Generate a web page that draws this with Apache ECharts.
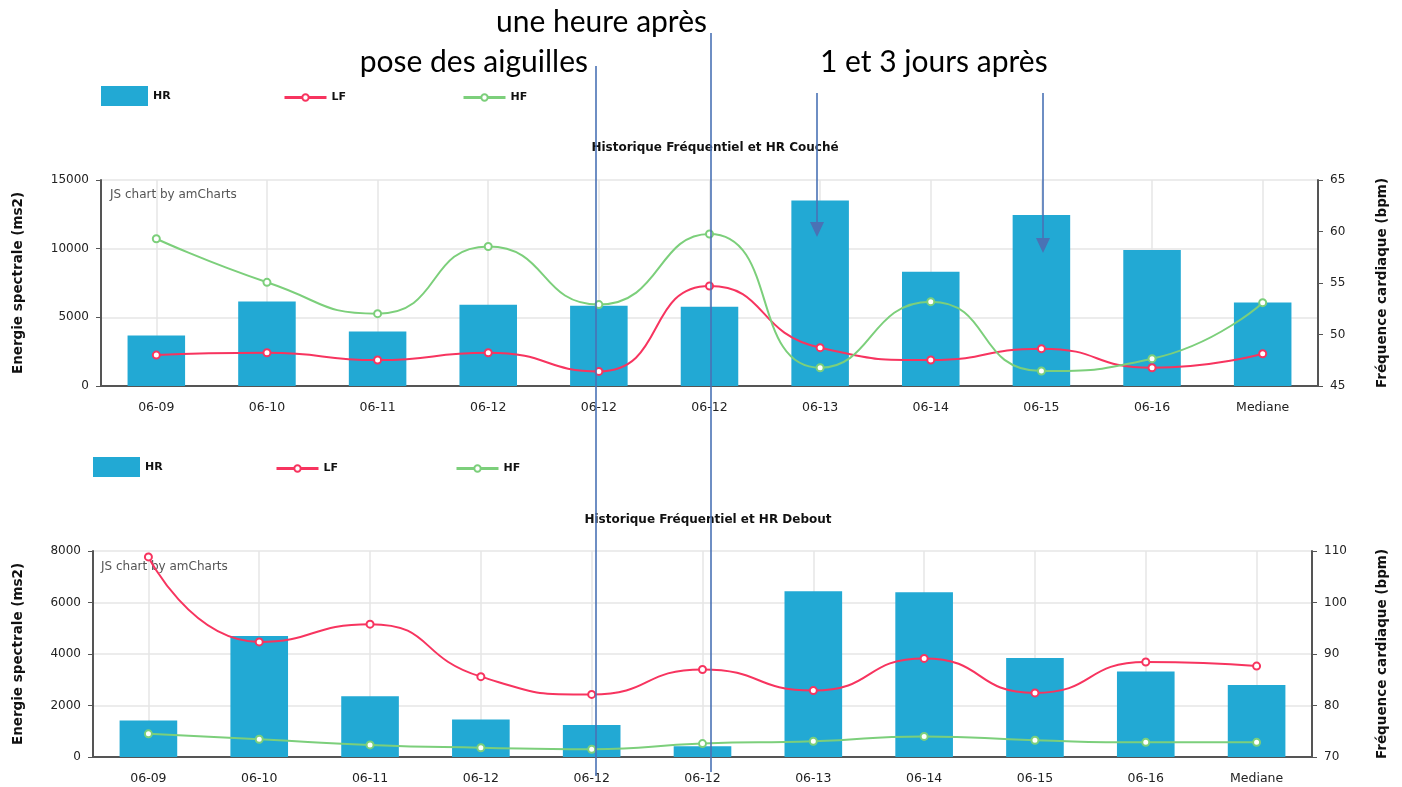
<!DOCTYPE html>
<html>
<head>
<meta charset="utf-8">
<script src="https://cdn.jsdelivr.net/npm/echarts@6.0.0/dist/echarts.min.js"></script>
<style>
  html, body { margin: 0; padding: 0; background: #fff; }
  #main { width: 1402px; height: 787px; }
</style>
</head>
<body>
<div id="main"></div>
<script>
// categories (dates of the measurements)
let categories = ['06-09', '06-10', '06-11', '06-12', '06-12', '06-12', '06-13', '06-14', '06-15', '06-16', 'Mediane'];

// Couché (lying) : HR in bpm, LF / HF in ms2
let hrCouche = [49.9, 53.2, 50.3, 52.9, 52.8, 52.7, 63.0, 56.1, 61.6, 58.2, 53.1];
let lfCouche = [2250, 2420, 1890, 2420, 1060, 7280, 2790, 1890, 2720, 1330, 2350];
let hfCouche = [10720, 7550, 5270, 10160, 5930, 11070, 1330, 6140, 1090, 1990, 6070];

// Debout (standing)
let hrDebout = [77.1, 93.5, 81.8, 77.3, 76.2, 72.1, 102.2, 102.0, 89.2, 86.6, 84.0];
let lfDebout = [7770, 4470, 5160, 3120, 2430, 3400, 2580, 3830, 2490, 3690, 3530];
let hfDebout = [900, 690, 470, 360, 300, 520, 610, 800, 650, 570, 570];

let titles = ['Historique Fréquentiel et HR Couché', 'Historique Fréquentiel et HR Debout'];

let cBar = '#22a9d4';
let cLF = '#f7345f';
let cHF = '#7ccf7b';
let cNote = '#4a72b5';
let axisCol = '#555';
let gridCol = '#e6e6e6';

let chart = echarts.init(document.getElementById('main'));

function xAxisFor(idx) {
    return {
        type: 'category',
        gridIndex: idx,
        data: categories,
        axisLine: { lineStyle: { color: axisCol, width: 2 } },
        axisTick: { alignWithLabel: true, length: 4, lineStyle: { color: axisCol } },
        splitLine: { show: true, alignWithLabel: true, lineStyle: { color: gridCol, width: 1.5 } },
        axisLabel: { color: '#222', fontSize: 12.5, margin: 15, interval: 0 }
    };
}

function leftAxis(idx, max, step, gap) {
    return {
        type: 'value',
        gridIndex: idx,
        position: 'left',
        min: 0, max: max, interval: step,
        name: 'Energie spectrale (ms2)',
        nameLocation: 'middle',
        nameRotate: 90,
        nameGap: gap,
        nameTextStyle: { fontSize: 13.5, fontWeight: 'bold', color: '#111' },
        axisLine: { show: true, lineStyle: { color: axisCol, width: 2 } },
        axisTick: { show: true, length: 5, lineStyle: { color: axisCol } },
        splitLine: { lineStyle: { color: gridCol, width: 1.5 } },
        axisLabel: { color: '#222', fontSize: 12, margin: 12, formatter: function (v) { return String(v); } }
    };
}

function rightAxis(idx, min, max, step, gap) {
    return {
        type: 'value',
        gridIndex: idx,
        position: 'right',
        min: min, max: max, interval: step,
        name: 'Fréquence cardiaque (bpm)',
        nameLocation: 'middle',
        nameRotate: 90,
        nameGap: gap,
        nameTextStyle: { fontSize: 13.5, fontWeight: 'bold', color: '#111' },
        axisLine: { show: true, lineStyle: { color: axisCol, width: 2 } },
        axisTick: { show: true, length: 5, lineStyle: { color: axisCol } },
        splitLine: { show: false },
        axisLabel: { color: '#222', fontSize: 12, margin: 12 }
    };
}

function barSeries(idx, vals) {
    return {
        name: 'HR', type: 'bar',
        xAxisIndex: idx, yAxisIndex: idx * 2 + 1,
        barWidth: '52%', clip: true,
        itemStyle: { color: cBar },
        data: vals
    };
}

function lineSeries(idx, name, color, vals) {
    return {
        name: name, type: 'line',
        xAxisIndex: idx, yAxisIndex: idx * 2,
        smooth: 0.55,
        symbol: 'emptyCircle', symbolSize: 7,
        lineStyle: { color: color, width: 2 },
        itemStyle: { color: color, borderWidth: 2 },
        z: 3,
        data: vals
    };
}

function legendItem(name, left, top, isBar) {
    return {
        data: [name],
        left: left, top: top,
        padding: 0,
        icon: isBar ? 'rect' : undefined,
        itemWidth: isBar ? 47 : 42,
        itemHeight: isBar ? 20 : 8,
        itemGap: 0, itemTextGap: 7,
        lineStyle: { width: 3 },
        textStyle: { fontSize: 11, fontWeight: 'bold', color: '#111' },
        selectedMode: false
    };
}

function noteLine(x, y1, y2) {
    return { type: 'line', z: 100, shape: { x1: x, y1: y1, x2: x, y2: y2 }, style: { stroke: cNote, lineWidth: 1.6 } };
}

function noteArrow(x, y1, y2) {
    return [
        noteLine(x, y1, y2 - 12),
        { type: 'polygon', z: 100, shape: { points: [[x - 7, y2 - 15], [x + 7, y2 - 15], [x, y2]] }, style: { fill: cNote } }
    ];
}

function noteText(text, x, y, align) {
    return { type: 'text', z: 100, style: { text: text, x: x, y: y, align: align, verticalAlign: 'middle', font: '30px Lato', fill: '#000' } };
}

function watermark(x, y) {
    return { type: 'text', style: { text: 'JS chart by amCharts', x: x, y: y, font: '12px "DejaVu Sans"', fill: '#555', verticalAlign: 'middle' } };
}

let option = {
    animation: false,
    textStyle: { fontFamily: '"DejaVu Sans", Verdana, sans-serif' },
    title: [
        { text: titles[0], left: 710, top: 137, textAlign: 'center', textStyle: { fontSize: 12, fontWeight: 'bold', color: '#111' } },
        { text: titles[1], left: 703, top: 509, textAlign: 'center', textStyle: { fontSize: 12, fontWeight: 'bold', color: '#111' } }
    ],
    legend: [
        legendItem('HR', 101, 86, true),
        legendItem('LF', 283, 92, false),
        legendItem('HF', 462, 92, false),
        legendItem('HR', 93, 457, true),
        legendItem('LF', 275, 463, false),
        legendItem('HF', 455, 463, false)
    ],
    grid: [
        { left: 101, right: 84, top: 180, height: 206 },
        { left: 93, right: 90, top: 551, height: 206 }
    ],
    xAxis: [xAxisFor(0), xAxisFor(1)],
    yAxis: [
        leftAxis(0, 15000, 5000, 76),
        rightAxis(0, 45, 65, 5, 57),
        leftAxis(1, 8000, 2000, 68),
        rightAxis(1, 70, 110, 10, 63)
    ],
    series: [
        barSeries(0, hrCouche),
        lineSeries(0, 'LF', cLF, lfCouche),
        lineSeries(0, 'HF', cHF, hfCouche),
        barSeries(1, hrDebout),
        lineSeries(1, 'LF', cLF, lfDebout),
        lineSeries(1, 'HF', cHF, hfDebout)
    ],
    graphic: [
        watermark(110, 195),
        watermark(101, 567),
        noteText('une heure après', 707, 22, 'right'),
        noteText('pose des aiguilles', 588, 62, 'right'),
        noteText('1 et 3 jours après', 820, 62, 'left'),
        noteLine(596, 66, 776),
        noteLine(711, 33, 772)
    ].concat(noteArrow(817, 93, 237), noteArrow(1043, 93, 253))
};

chart.setOption(option);
</script>
</body>
</html>
